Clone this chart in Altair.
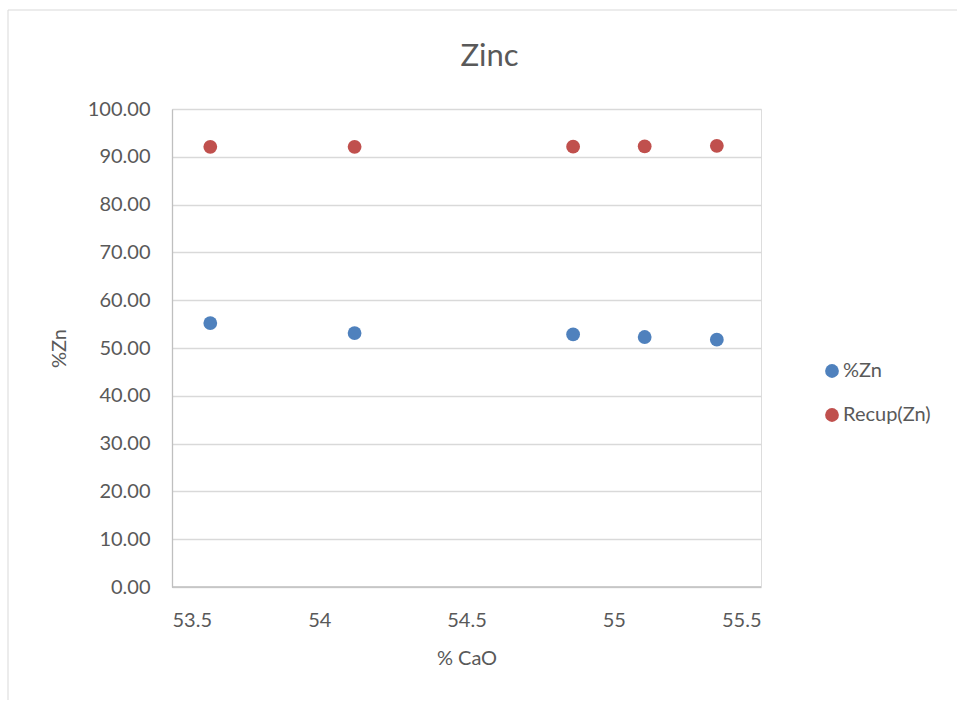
import altair as alt
import pandas as pd

cao = [53.63, 54.12, 54.862, 55.105, 55.35]
zn = [55.22, 53.13, 52.85, 52.30, 51.74]
recup = [92.09, 92.09, 92.12, 92.2, 92.3]
series = ["%Zn", "Recup(Zn)"]
colors = ["#4f81bd", "#c0504d"]
x_ticks = [53.5, 54, 54.5, 55, 55.5]
y_ticks = [0, 10, 20, 30, 40, 50, 60, 70, 80, 90, 100]

rows = []
for c, z in zip(cao, zn):
    rows.append({"cao": c, "val": z, "serie": series[0]})
for c, r in zip(cao, recup):
    rows.append({"cao": c, "val": r, "serie": series[1]})
df = pd.DataFrame(rows)

FONT = "Lato"
GREY = "#595959"
FS = 20

points = alt.Chart(df).mark_circle(size=190, opacity=1).encode(
    x=alt.X("cao:Q", title="% CaO",
            scale=alt.Scale(domain=[53.5, 55.5], nice=False, zero=False),
            axis=alt.Axis(values=x_ticks, format="~g", grid=False, ticks=False, domain=False,
                          labelPadding=23, labelFontSize=FS, labelColor=GREY,
                          titleFontSize=FS, titleColor=GREY, titleFontWeight="normal",
                          titlePadding=18, labelFont=FONT, titleFont=FONT)),
    y=alt.Y("val:Q", title="%Zn",
            scale=alt.Scale(domain=[0, 100], nice=False),
            axis=alt.Axis(values=y_ticks, format=".2f", grid=True, gridColor="#d9d9d9",
                          gridWidth=1.3, ticks=False, domain=True, domainColor="#bfbfbf",
                          domainWidth=1.3, labelPadding=22, labelFontSize=FS, labelColor=GREY,
                          titleFontSize=FS, titleColor=GREY, titleFontWeight="normal",
                          titlePadding=18, labelFont=FONT, titleFont=FONT)),
    color=alt.Color("serie:N", scale=alt.Scale(domain=series, range=colors),
                    legend=alt.Legend(title=None, orient="none", legendX=650, legendY=252,
                                      symbolType="circle", symbolSize=190,
                                      labelFontSize=FS, labelColor=GREY, labelFont=FONT,
                                      rowPadding=24, padding=0, labelOffset=1)),
)

baseline = alt.Chart(pd.DataFrame({"y": [0]})).mark_rule(color="#bfbfbf", strokeWidth=1.3).encode(
    y="y:Q"
)

frame = alt.Chart(pd.DataFrame({"a": [0]})).mark_rule(color="#d9d9d9", strokeWidth=1).encode(
    x=alt.value(-164), y=alt.value(-99), y2=alt.value(591)
)
frame_top = alt.Chart(pd.DataFrame({"a": [0]})).mark_rule(color="#d9d9d9", strokeWidth=1).encode(
    x=alt.value(-164), x2=alt.value(790), y=alt.value(-99)
)

chart = alt.layer(frame, frame_top, baseline, points).properties(
    width=589, height=478,
    title=alt.TitleParams("Zinc", fontSize=31, color=GREY, font=FONT, fontWeight="normal",
                          offset=0, dx=23, dy=63, anchor="middle"),
    autosize=alt.AutoSizeParams(type="none"),
    padding={"left": 172, "top": 109, "right": 196, "bottom": 115},
).configure_view(stroke=None).configure(background="white")

chart.save("out.html", embed_options={"renderer": "svg", "actions": False})
